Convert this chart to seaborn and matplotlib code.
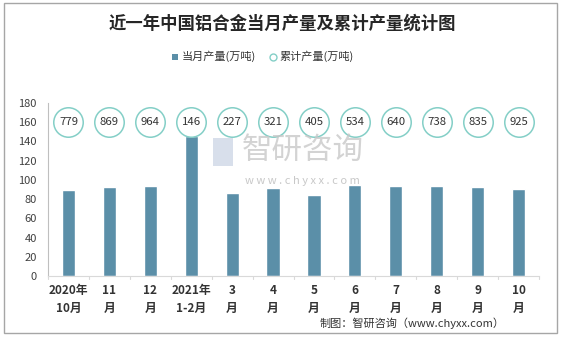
import numpy as np
import pandas as pd
import matplotlib
matplotlib.use("Agg")
import matplotlib.pyplot as plt
import seaborn as sns
from matplotlib.patches import Rectangle

months = ["2020年\n10月", "11\n月", "12\n月", "2021年\n1-2月", "3\n月", "4\n月",
          "5\n月", "6\n月", "7\n月", "8\n月", "9\n月", "10\n月"]
monthly = [89.5, 93.0, 93.6, 145.7, 86.4, 92.0, 84.3, 94.7, 93.6, 93.6, 93.0, 90.5]
cumulative = [779, 869, 964, 146, 227, 321, 405, 534, 640, 738, 835, 925]

sns.set_theme(style="white")
plt.rcParams['font.family'] = ['Noto Sans CJK SC', 'DejaVu Sans']

df = pd.DataFrame({"month": months, "monthly": monthly})

fig = plt.figure(figsize=(5.65, 3.37), dpi=100)
ax = fig.add_axes([48/565, 1 - 276/337, (539-48)/565, (276-103)/337])

bar_color = "#5b8fa8"
sns.barplot(data=df, x="month", y="monthly", color=bar_color, width=0.32,
            saturation=1, ax=ax)

ax.set_ylim(0, 180)
ax.set_xlim(-0.5, len(months) - 0.5)
ax.set_yticks(range(0, 181, 20))
ax.set_xlabel("")
ax.set_ylabel("")
ax.tick_params(axis="y", labelsize=8, colors="#404040", length=0, pad=8)
ax.tick_params(axis="x", labelsize=8.5, length=0, pad=6)
for lbl in ax.get_xticklabels():
    lbl.set_fontweight("bold")
    lbl.set_color("#333333")
    lbl.set_linespacing(1.5)

for side in ["top", "right"]:
    ax.spines[side].set_visible(False)
ax.spines["left"].set_color("#bfbfbf")
ax.spines["bottom"].set_color("#d9d9d9")
ax.spines["left"].set_linewidth(0.8)
ax.spines["bottom"].set_linewidth(0.8)

# category separator ticks below the axis
for b in np.arange(-0.5, len(months), 1.0):
    ax.plot([b, b], [0, -3.5], color="#d9d9d9", lw=0.8, clip_on=False)

# cumulative totals shown as circled labels
x = np.arange(len(months))
ax.scatter(x, [160] * len(x), s=450, facecolor="white", edgecolor="#84cfc7",
           linewidth=1.1, zorder=3, clip_on=False)
for xi, v in zip(x, cumulative):
    ax.text(xi, 160, str(v), ha="center", va="center", fontsize=8.2,
            color="#333333", zorder=4)

# watermark
fig.text(0.535, 1 - 150/337, "智研咨询", fontsize=22, color="#c8c8c8",
         ha="center", va="center", alpha=0.8)
fig.text(0.535, 1 - 181/337, "w w w . c h y x x . c o m", fontsize=8,
         color="#c8c8c8", ha="center", va="center")
fig.patches.append(Rectangle((213/565, 1 - 166/337), 20/565, 28/337,
                             transform=fig.transFigure, facecolor="#cfd8e6",
                             edgecolor="none", alpha=0.8))

# title and legend
fig.text(0.5, 1 - 24/337, "近一年中国铝合金当月产量及累计产量统计图", fontsize=12.5,
         fontweight="bold", ha="center", va="center", color="#262626")
fig.patches.append(Rectangle((172/565, 1 - 60/337), 6/565, 6/337,
                             transform=fig.transFigure, facecolor=bar_color,
                             edgecolor="none"))
fig.text(182/565, 1 - 56/337, "当月产量(万吨)", fontsize=8, ha="left",
         va="center", color="#333333")
fig.lines.append(plt.Line2D([273/565], [1 - 57/337], marker="o", markersize=5,
                            markerfacecolor="white", markeredgecolor="#84cfc7",
                            markeredgewidth=1, transform=fig.transFigure))
fig.text(279/565, 1 - 56/337, "累计产量(万吨)", fontsize=8, ha="left",
         va="center", color="#333333")

fig.text(505/565, 1 - 323/337, "制图：智研咨询（www.chyxx.com）", fontsize=8,
         ha="right", va="center", color="#333333")

# outer frame
fig.patches.append(Rectangle((4/565, 4/337), 553/565, 330/337,
                             transform=fig.transFigure, facecolor="none",
                             edgecolor="#a6a6a6", linewidth=1))

fig.savefig("out.png", dpi=100)
